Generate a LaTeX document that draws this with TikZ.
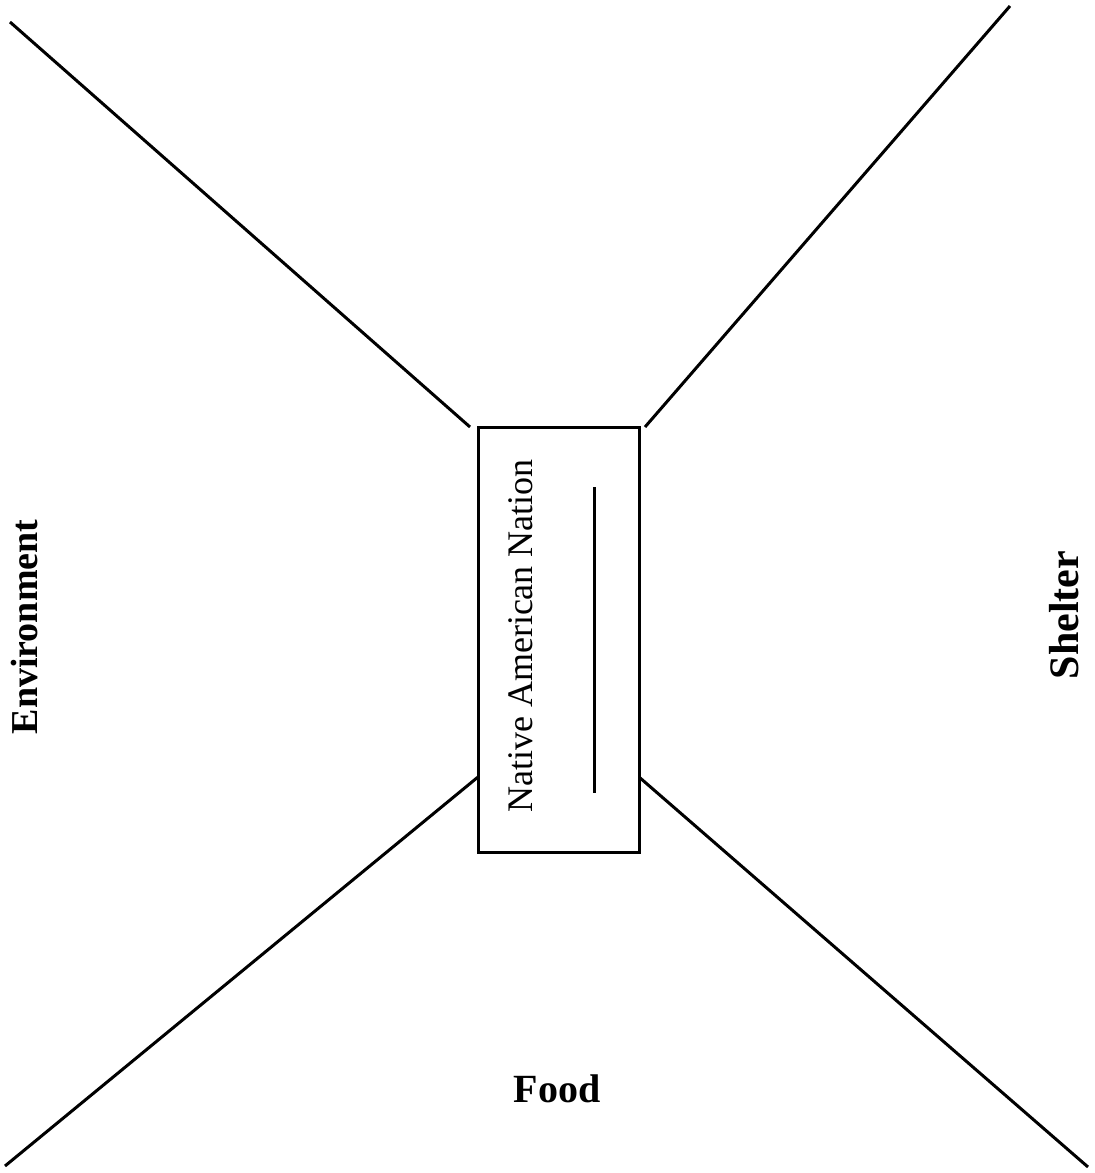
\documentclass[tikz,border=0pt]{standalone}
\usepackage{fontspec}
\setmainfont{Liberation Serif}
\begin{document}
\begin{tikzpicture}[x=0.5pt,y=-0.5pt,
  ln/.style={line width=1.5pt},
  lab/.style={inner sep=0pt,font=\bfseries\fontsize{19}{22}\selectfont}]
\useasboundingbox (0,0) rectangle (1094,1173);
\node[draw,line width=1.5pt,minimum width=80.5pt,minimum height=212.5pt,inner sep=0pt] (box) at (558.5,639.5) {};
\coordinate (tl) at (10,22);
\coordinate (tlb) at (470,427);
\coordinate (tr) at (1010,6);
\coordinate (trb) at (645,427);
\coordinate (bl) at (5,1166);
\coordinate (blb) at (478,777);
\coordinate (br) at (1088,1167);
\coordinate (brb) at (639,777);
\draw[ln] (tl) -- (tlb);
\draw[ln] (tr) -- (trb);
\draw[ln] (bl) -- (blb);
\draw[ln] (br) -- (brb);
\coordinate (ua) at (594,487);
\coordinate (ub) at (594,793);
\draw[ln] (ua) -- (ub);
\node[inner sep=0pt,rotate=90,font=\fontsize{18}{22}\selectfont] (name) at (521,636) {Native American Nation};
\node[lab,rotate=90] (env) at (25,627) {Environment};
\node[lab,rotate=90,font=\bfseries\fontsize{21}{24}\selectfont] (shel) at (1064,615) {Shelter};
\node[lab,font=\bfseries\fontsize{20}{24}\selectfont] (food) at (557,1089) {Food};
\end{tikzpicture}
\end{document}
